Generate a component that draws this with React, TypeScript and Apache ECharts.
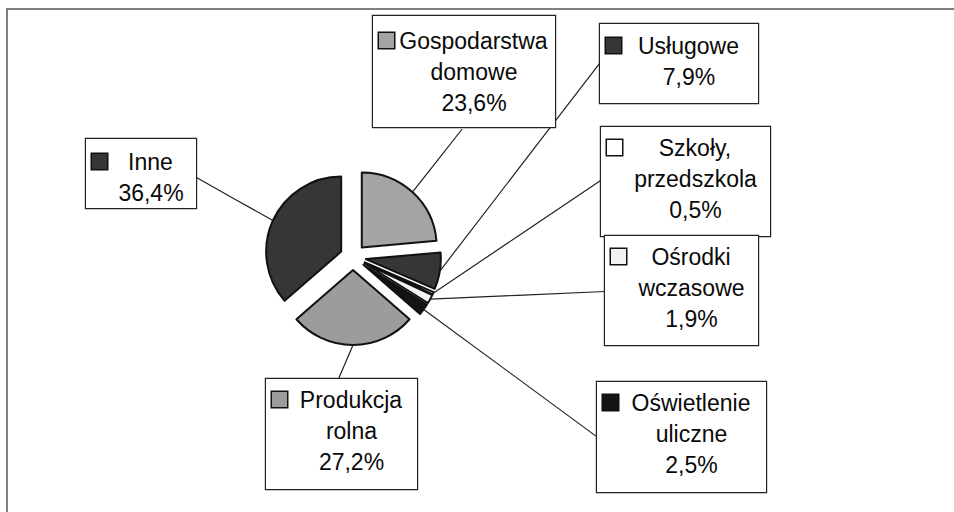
import React, { useEffect, useRef } from 'react';
import * as echarts from 'echarts';

const categories = [
  'Gospodarstwa domowe',
  'Usługowe',
  'Szkoły, przedszkola',
  'Ośrodki wczasowe',
  'Oświetlenie uliczne',
  'Produkcja rolna',
  'Inne',
];
const shares = [23.6, 7.9, 0.5, 1.9, 2.5, 27.2, 36.4];
const sliceColors = ['#a4a4a4', '#363636', '#ffffff', '#f2f2f2', '#141414', '#9c9c9c', '#363636'];

// label boxes: [left, top, width, height, paddingTop, anchorFx, anchorFy]
const boxLayout = [
  [373, 16, 182, 113, 9, 0.49, 1],
  [600, 24, 158, 81, 6, 0, 0.48],
  [601, 127, 169, 111, 5, 0, 0.48],
  [605, 236, 153, 111, 5, 0, 0.5],
  [597, 382, 169, 112, 5, 0, 0.49],
  [266, 379, 151, 112, 5, 0.48, 0],
  [86, 139, 110, 71, 7, 1, 0.54],
];

const CX = 353;
const CY = 257;
const R = 75;
const OFFSET = 13;

export default function App() {
  const ref = useRef<HTMLDivElement>(null);
  useEffect(() => {
    if (!ref.current) return;
    const chart = echarts.init(ref.current, null, { renderer: 'svg' });
    const total = shares.reduce((a, b) => a + b, 0);
    const midAngles: number[] = [];
    let cum = 0;
    shares.forEach((v) => {
      midAngles.push(((cum + v / 2) / total) * Math.PI * 2);
      cum += v;
    });

    const rich: Record<string, any> = {
      t: { fontSize: 23, lineHeight: 31, fontFamily: 'Liberation Sans', color: '#0a0a0a', align: 'center' },
      gap: { width: 4, align: 'left', lineHeight: 31 },
      sp: { width: 20, align: 'left', lineHeight: 31 },
    };
    sliceColors.forEach((c, i) => {
      rich['sq' + i] = {
        width: 15,
        height: 15,
        backgroundColor: c,
        borderColor: '#111',
        borderWidth: 1.5,
        align: 'left',
        lineHeight: 31,
      };
    });

    const sliceData = categories.map((name, i) => ({
      name,
      value: shares[i],
      selected: true,
      itemStyle: { color: sliceColors[i] },
    }));

    const labelData = categories.map((name, i) => {
      const [, , w, h, pt] = boxLayout[i];
      return {
        name,
        value: shares[i],
        label: { width: w - 12, height: h - pt - 2, padding: [pt, 6, 0, 6] },
      };
    });

    chart.setOption({
      animation: false,
      backgroundColor: '#fff',
      graphic: [
        {
          type: 'rect',
          silent: true,
          shape: { x: 7, y: 9, width: 2000, height: 2000 },
          style: { fill: 'none', stroke: '#555', lineWidth: 1.5 },
        },
      ],
      series: [
        {
          type: 'pie',
          center: [CX, CY],
          radius: R,
          startAngle: 90,
          clockwise: true,
          selectedMode: 'multiple',
          selectedOffset: OFFSET,
          emphasis: { disabled: true },
          select: { itemStyle: { borderColor: '#111', borderWidth: 2 } },
          itemStyle: { borderColor: '#111', borderWidth: 2 },
          label: { show: false },
          labelLine: { show: false },
          data: sliceData,
          z: 2,
        },
        {
          type: 'pie',
          center: [CX, CY],
          radius: R,
          startAngle: 90,
          clockwise: true,
          silent: true,
          avoidLabelOverlap: false,
          emphasis: { disabled: true },
          itemStyle: { color: 'rgba(0,0,0,0)', borderWidth: 0 },
          z: 3,
          label: {
            show: true,
            position: 'outside',
            backgroundColor: '#fff',
            borderColor: '#222',
            borderWidth: 1.2,
            fontFamily: 'Liberation Sans',
            fontSize: 23,
            color: '#0a0a0a',
            rich,
            formatter: (p: any) => {
              const words = String(p.name).split(' ');
              const pct = Number(p.value).toFixed(1).replace('.', ',') + '%';
              const lines = [...words, pct];
              return lines
                .map((l, i) => (i === 0 ? `{sq${p.dataIndex}|}{gap|}` : '{sp|}') + `{t|${l}}`)
                .join('\n');
            },
          },
          labelLine: { show: true, length: 10, length2: 10, lineStyle: { color: '#222', width: 1.2 } },
          labelLayout: (params: any) => {
            const i = params.dataIndex;
            const [l, t, w, h, , fx, fy] = boxLayout[i];
            const a = midAngles[i];
            const r = R + OFFSET;
            const start = [CX + r * Math.sin(a), CY - r * Math.cos(a)];
            const end = [l + fx * w, t + fy * h];
            const mid = [(start[0] + end[0]) / 2, (start[1] + end[1]) / 2];
            return {
              x: l,
              y: t,
              align: 'left',
              verticalAlign: 'top',
              labelLinePoints: [start, mid, end],
            };
          },
          data: labelData,
        },
      ],
    });
    return () => chart.dispose();
  }, []);
  return (
    <div
      ref={ref}
      style={{ position: 'fixed', left: 0, top: 0, width: 954, height: 512, background: '#fff' }}
    />
  );
}
